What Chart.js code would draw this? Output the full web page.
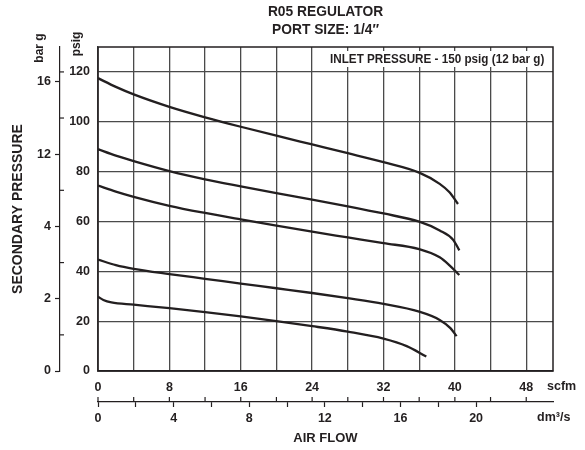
<!DOCTYPE html>
<html>
<head>
<meta charset="utf-8">
<script src="https://cdn.jsdelivr.net/npm/chart.js@4.4.0/dist/chart.umd.min.js"></script>
<style>
  html, body { margin: 0; padding: 0; background: #fff; }
  #wrap { width: 585px; height: 450px; }
</style>
</head>
<body>
<div id="wrap"><canvas id="chart" width="585" height="450"></canvas></div>
<script>
// curves: flow in scfm, secondary pressure in psig
const flow1 = [0, 2, 4, 8, 12, 16, 20, 24, 28, 32, 36, 38.3, 39.4, 40.35];
const press1 = [117.5, 114, 111, 106, 101.8, 98, 94.4, 90.9, 87.4, 83.8, 79.6, 75.1, 71.7, 67];
const flow2 = [0, 2, 4, 8, 12, 16, 20, 24, 28, 32, 36, 38.3, 39.8, 40.5];
const press2 = [89, 86.4, 84.2, 80.2, 76.9, 74.1, 71.4, 68.8, 66.1, 63.2, 59.9, 56.4, 52.7, 48.4];
const flow3 = [0, 2, 4, 8, 12, 16, 20, 24, 28, 32, 36, 38.3, 39.4, 40.5];
const press3 = [74.4, 72, 69.9, 66.3, 63.4, 60.8, 58.3, 55.9, 53.6, 51.3, 48.9, 45.6, 42.4, 38.5];
const flow4 = [0, 2, 4, 8, 12, 16, 20, 24, 28, 32, 36, 38.3, 39.5, 40.2];
const press4 = [44.7, 42.5, 41, 38.9, 37, 35.1, 33.2, 31.3, 29.2, 26.9, 23.8, 20.5, 17.2, 14];
const flow5 = [0, 0.6, 1.5, 4, 8, 12, 16, 20, 24, 28, 32, 34.6, 36.8];
const press5 = [29.8, 28.5, 27.5, 26.6, 25.2, 23.6, 21.9, 20, 18, 15.8, 13, 10, 5.8];

// axes
const scfmTicks = [0, 4, 8, 12, 16, 20, 24, 28, 32, 36, 40, 44, 48];
const psigTicks = [0, 20, 40, 60, 80, 100, 120];
const barTickPsig = [0, 29, 58, 87, 116];
const barTickLabels = ["0", "2", "4", "12", "16"];
const barMinorPsig = [14.5, 43.5, 72.5, 101.5, 120];
const dmTicks = [0, 2, 4, 6, 8, 10, 12, 14, 16, 18, 20];
const SCFM_PER_DM3S = 2.119;
const SCFM_MAX = 51;
const PSIG_MAX = 130;

const ink = "#231f20";
const FONT = "'Liberation Sans', Arial, sans-serif";
Chart.defaults.font.family = FONT;
Chart.defaults.color = ink;

function curve(xs, ys) {
    return {
        data: xs.map((x, i) => ({x: x, y: ys[i]})),
        borderColor: ink,
        borderWidth: 2.3,
        pointRadius: 0,
        fill: false,
        cubicInterpolationMode: "monotone",
        xAxisID: "x",
        yAxisID: "y",
    };
}

const annotate = {
    id: "annotate",
    afterDraw(chart) {
        const {ctx, chartArea: a, scales} = chart;
        ctx.save();

        // frame
        ctx.strokeStyle = ink;
        ctx.lineWidth = 1.5;
        ctx.strokeRect(a.left, a.top, a.right - a.left, a.bottom - a.top);

        ctx.fillStyle = ink;
        ctx.textBaseline = "middle";

        // titles
        const cx = (a.left + a.right) / 2;
        ctx.font = "bold 13.8px " + FONT;
        ctx.textAlign = "center";
        ctx.fillText("R05 REGULATOR", cx, 12);
        ctx.fillText("PORT SIZE: 1/4\u2033", cx, 30);

        // inlet pressure note (condensed, on white)
        ctx.fillStyle = "#fff";
        ctx.fillRect(327, 51, 220, 16);
        ctx.fillStyle = ink;
        ctx.font = "bold 13.5px " + FONT;
        ctx.textAlign = "left";
        ctx.save();
        ctx.translate(330, 59);
        ctx.scale(0.866, 1);
        ctx.fillText("INLET PRESSURE - 150 psig (12 bar g)", 0, 0);
        ctx.restore();

        // units
        ctx.font = "bold 12.5px " + FONT;
        ctx.fillText("scfm", 547, 387);
        ctx.fillText("dm\u00b3/s", 537, 418);

        ctx.font = "bold 12px " + FONT;
        ctx.textAlign = "center";
        ctx.save();
        ctx.translate(40, 48);
        ctx.rotate(-Math.PI / 2);
        ctx.fillText("bar g", 0, 0);
        ctx.restore();
        ctx.save();
        ctx.translate(77, 44);
        ctx.rotate(-Math.PI / 2);
        ctx.fillText("psig", 0, 0);
        ctx.restore();

        // minor ticks on the bar axis, pointing right
        ctx.strokeStyle = ink;
        ctx.lineWidth = 1.2;
        const bx = scales.yBar.right;
        barMinorPsig.forEach(v => {
            const y = scales.y.getPixelForValue(v);
            ctx.beginPath();
            ctx.moveTo(bx, y);
            ctx.lineTo(bx + 4, y);
            ctx.stroke();
        });

        // scfm ticks, pointing up from the dm3/s line
        const ty = scales.x2.top;
        scfmTicks.forEach(v => {
            const x = scales.x.getPixelForValue(v);
            ctx.beginPath();
            ctx.moveTo(x, ty);
            ctx.lineTo(x, ty - 5);
            ctx.stroke();
        });

        ctx.restore();
    }
};

new Chart(document.getElementById("chart"), {
    type: "line",
    data: {
        datasets: [
            curve(flow1, press1),
            curve(flow2, press2),
            curve(flow3, press3),
            curve(flow4, press4),
            curve(flow5, press5),
        ]
    },
    options: {
        responsive: false,
        animation: false,
        layout: {padding: {left: 0, right: 32, top: 47, bottom: 0}},
        plugins: {
            legend: {display: false},
            tooltip: {enabled: false},
            title: {display: false},
        },
        scales: {
            x: {
                type: "linear",
                position: "bottom",
                weight: 0,
                min: 0,
                max: SCFM_MAX,
                afterBuildTicks: s => { s.ticks = scfmTicks.map(v => ({value: v})); },
                afterFit: s => { s.height = 31; },
                ticks: {
                    autoSkip: false,
                    maxRotation: 0,
                    padding: 9,
                    font: {size: 12.5, weight: "bold"},
                    callback: v => (v % 8 === 0 ? String(v) : ""),
                },
                grid: {color: "#4a4a4a", lineWidth: 1.3, drawTicks: false},
                border: {display: true, color: ink, width: 1.5},
            },
            x2: {
                type: "linear",
                position: "bottom",
                weight: 1,
                min: 0,
                max: SCFM_MAX / SCFM_PER_DM3S,
                afterBuildTicks: s => { s.ticks = dmTicks.map(v => ({value: v})); },
                afterFit: s => { s.height = 48; },
                ticks: {
                    autoSkip: false,
                    maxRotation: 0,
                    padding: 4,
                    font: {size: 12.5, weight: "bold"},
                    callback: v => (v % 4 === 0 ? String(v) : ""),
                },
                grid: {drawOnChartArea: false, tickLength: 5, tickColor: ink, tickWidth: 1.2},
                border: {display: true, color: ink, width: 1.2},
                title: {
                    display: true,
                    text: "AIR FLOW",
                    font: {size: 13, weight: "bold"},
                    padding: {top: 0, bottom: 4},
                },
            },
            y: {
                type: "linear",
                position: "left",
                weight: 0,
                min: 0,
                max: PSIG_MAX,
                afterBuildTicks: s => { s.ticks = psigTicks.map(v => ({value: v})); },
                afterFit: s => { s.width = 38; },
                ticks: {padding: 8, font: {size: 12.5, weight: "bold"}},
                grid: {color: "#4a4a4a", lineWidth: 1.3, drawTicks: false},
                border: {display: true, color: "#4a4a4a", width: 1.3},
            },
            yBar: {
                type: "linear",
                position: "left",
                weight: 1,
                min: 0,
                max: PSIG_MAX,
                afterBuildTicks: s => { s.ticks = barTickPsig.map(v => ({value: v})); },
                afterFit: s => { s.width = 60; },
                ticks: {
                    padding: 4,
                    font: {size: 12.5, weight: "bold"},
                    callback: (v, i) => barTickLabels[i],
                },
                grid: {drawOnChartArea: false, tickLength: 5, tickColor: ink, tickWidth: 1.2},
                border: {display: true, color: ink, width: 1.2},
                title: {
                    display: true,
                    text: "SECONDARY PRESSURE",
                    font: {size: 14, weight: "bold"},
                    padding: {top: 10, bottom: 0},
                },
            },
        },
    },
    plugins: [annotate],
});
</script>
</body>
</html>
